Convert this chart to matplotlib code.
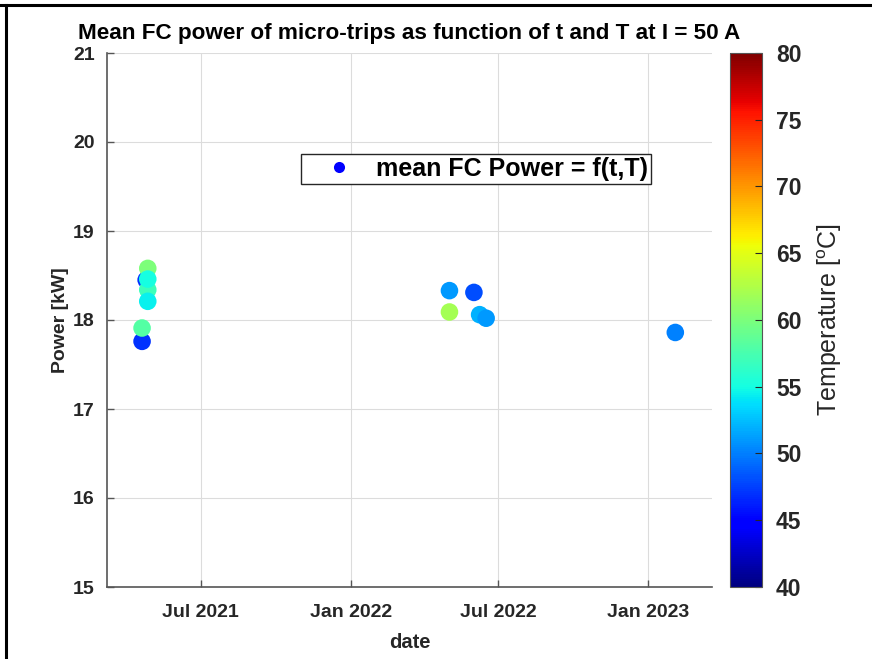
"""Mean fuel-cell power of micro-trips over time, coloured by stack temperature."""
import matplotlib.pyplot as plt
import matplotlib.dates as mdates
import matplotlib.lines as mlines
import numpy as np
import pandas as pd

# micro-trip dates, mean FC power [kW] and temperature [degC] at I = 50 A
trip_dates = [
    "2021-04-20", "2021-04-20", "2021-04-25", "2021-04-27", "2021-04-27",
    "2021-04-27", "2021-04-27",
    "2022-05-02", "2022-06-01", "2022-05-02", "2022-06-08", "2022-06-16",
    "2023-02-03",
]
power_kw = [17.76, 17.91, 18.45, 18.58, 18.34, 18.21, 18.46,
            18.33, 18.31, 18.09, 18.06, 18.02,
            17.86]
temperature_c = [47, 58, 47, 60, 57, 54.5, 55,
                 51, 48, 62, 52, 51,
                 50]

x_ticks = ["2021-07-01", "2022-01-01", "2022-07-01", "2023-01-01"]
x_limits = ["2021-03-08", "2023-03-20"]

plt.rcParams["font.family"] = ["Liberation Sans", "DejaVu Sans"]
text_grey = "#262626"

fig = plt.figure(figsize=(8.72, 6.59), dpi=100)
ax = fig.add_axes([107 / 872, 72 / 659, 605 / 872, 534 / 659])
cax = fig.add_axes([730 / 872, 72 / 659, 32 / 872, 534 / 659])

dates = pd.to_datetime(trip_dates)
sc = ax.scatter(dates, power_kw, c=temperature_c, cmap="jet", vmin=40, vmax=80,
                s=160, edgecolors="none", zorder=3)

ax.set_xlim(pd.to_datetime(x_limits))
ax.set_ylim(15, 21)
ax.set_xticks(pd.to_datetime(x_ticks))
ax.xaxis.set_major_formatter(mdates.DateFormatter("%b %Y"))
ax.set_yticks(np.arange(15, 22, 1))
ax.grid(True, color="#dcdcdc", linewidth=0.8, zorder=0)
ax.set_axisbelow(True)
for side in ("top", "right"):
    ax.spines[side].set_visible(False)
for side in ("left", "bottom"):
    ax.spines[side].set_color("#555555")
    ax.spines[side].set_linewidth(1.2)
ax.tick_params(direction="in", length=5, width=1, colors="#555555",
               labelcolor=text_grey, labelsize=14, pad=9)
ax.tick_params(axis="x", pad=12)
for lbl in ax.get_xticklabels() + ax.get_yticklabels():
    lbl.set_fontweight("bold")

ax.set_xlabel("date", fontsize=14.5, fontweight="bold", color=text_grey, labelpad=9)
ax.set_ylabel("Power [kW]", fontsize=14, fontweight="bold", color=text_grey, labelpad=3)
ax.set_title("Mean FC power of micro-trips as function of t and T at I = 50 A",
             fontsize=16.2, fontweight="bold", color="black", pad=10)

handle = mlines.Line2D([], [], linestyle="none", marker="o", markersize=8,
                       markerfacecolor="#0000ff", markeredgecolor="none")
leg = ax.legend([handle], ["mean FC Power = f(t,T)"], loc="upper left",
                bbox_to_anchor=(0.32, 0.811), borderaxespad=0, fancybox=False,
                framealpha=1, edgecolor="#262626", borderpad=0.12,
                handlelength=2.8, handletextpad=0.1,
                prop={"size": 18, "weight": "bold"})
leg.get_frame().set_linewidth(1.0)

cb = fig.colorbar(sc, cax=cax, ticks=np.arange(40, 81, 5))
cb.outline.set_edgecolor("#555555")
cb.ax.tick_params(direction="in", length=5, colors="#262626", labelsize=16.5, pad=10)
for lbl in cb.ax.get_yticklabels():
    lbl.set_fontweight("bold")
cb.set_label(r"Temperature [$^\mathregular{o}$C]", fontsize=18, color=text_grey, labelpad=10)

# outer frame lines along the top and left edges
fig.add_artist(mlines.Line2D([0, 1], [1 - 5 / 659, 1 - 5 / 659], color="black", linewidth=2.2))
fig.add_artist(mlines.Line2D([6 / 872, 6 / 872], [0, 1 - 5 / 659], color="black", linewidth=2.2))

fig.savefig("out.png", dpi=100)
